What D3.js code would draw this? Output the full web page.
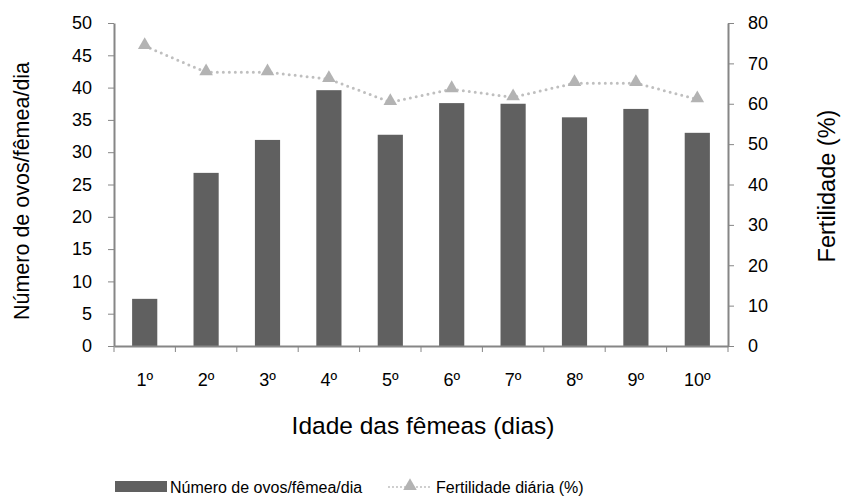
<!DOCTYPE html>
<html>
<head>
<meta charset="utf-8">
<script src="https://cdn.jsdelivr.net/npm/d3@7"></script>
<style>
  body { margin: 0; background: #fff; }
  text { font-family: "Liberation Sans", Arial, sans-serif; fill: #000; }
  .axis path, .axis line { stroke: #868686; }
</style>
</head>
<body>
<div id="chart"></div>
<script>
var days = ["1º","2º","3º","4º","5º","6º","7º","8º","9º","10º"];
var eggs = [7.3, 26.8, 31.9, 39.6, 32.7, 37.6, 37.5, 35.4, 36.7, 33.0];
var fertility = [74.3, 67.8, 67.8, 66.1, 60.4, 63.6, 61.6, 65.1, 65.1, 61.1];
var leftTicks = [0, 5, 10, 15, 20, 25, 30, 35, 40, 45, 50];
var rightTicks = [0, 10, 20, 30, 40, 50, 60, 70, 80];

var fullwidth = 842, fullheight = 497;
var margin = { top: 23, right: 114, bottom: 151, left: 114 };
var width = fullwidth - margin.left - margin.right;
var height = fullheight - margin.top - margin.bottom;

var svg = d3.select("#chart").append("svg")
  .attr("width", fullwidth)
  .attr("height", fullheight);

var g = svg.append("g")
  .attr("transform", "translate(" + margin.left + "," + margin.top + ")");

var xScale = d3.scaleBand().domain(days).range([0, width]).paddingInner(0.59).paddingOuter(0.295);
var xTicks = d3.scaleBand().domain(days).range([0, width]);
var yLeft = d3.scaleLinear().domain([0, 50]).range([height, 0]);
var yRight = d3.scaleLinear().domain([0, 80]).range([height, 0]);

// bars
g.selectAll("rect.bar")
  .data(eggs)
  .enter()
  .append("rect")
  .attr("class", "bar")
  .attr("x", function(d, i) { return xScale(days[i]); })
  .attr("y", function(d) { return yLeft(d); })
  .attr("width", xScale.bandwidth())
  .attr("height", function(d) { return height - yLeft(d); })
  .attr("fill", "#606060");

// axes
g.append("g").attr("class", "axis")
  .call(d3.axisLeft(yLeft).tickValues(leftTicks).tickSize(6).tickSizeOuter(0).tickPadding(16));
g.append("g").attr("class", "axis")
  .attr("transform", "translate(" + width + ",0)")
  .call(d3.axisRight(yRight).tickValues(rightTicks).tickSize(6).tickSizeOuter(0).tickPadding(14));
var xAxis = g.append("g").attr("class", "axis")
  .attr("transform", "translate(0," + height + ")")
  .call(d3.axisBottom(xTicks).tickSize(0).tickPadding(27));

xAxis.selectAll(".tick line").remove();
xAxis.selectAll("line.sep")
  .data(d3.range(days.length + 1))
  .enter()
  .append("line")
  .attr("x1", function(i) { return i * xTicks.step(); })
  .attr("x2", function(i) { return i * xTicks.step(); })
  .attr("y1", 0).attr("y2", 6)
  .attr("stroke", "#868686");

g.selectAll(".axis path").attr("stroke-width", 2);
g.selectAll(".axis text").style("font-size", "18px").attr("fill", "#000");

// line
var line = d3.line()
  .x(function(d, i) { return xScale(days[i]) + xScale.bandwidth() / 2; })
  .y(function(d) { return yRight(d); });

g.append("path")
  .datum(fertility)
  .attr("d", line)
  .attr("fill", "none")
  .attr("stroke", "#BFBFBF")
  .attr("stroke-width", 3)
  .attr("stroke-linecap", "round")
  .attr("stroke-dasharray", "0,6");

var tri = d3.symbol().type(d3.symbolTriangle).size(80);
g.selectAll("path.pt")
  .data(fertility)
  .enter()
  .append("path")
  .attr("class", "pt")
  .attr("d", tri)
  .attr("transform", function(d, i) {
    return "translate(" + (xScale(days[i]) + xScale.bandwidth() / 2) + "," + (yRight(d) - 1) + ")";
  })
  .attr("fill", "#B3B3B3");

// titles
svg.append("text")
  .attr("transform", "translate(21,191) rotate(-90)")
  .attr("text-anchor", "middle")
  .attr("dy", "0.35em")
  .style("font-size", "21.5px")
  .text("Número de ovos/fêmea/dia");

svg.append("text")
  .attr("transform", "translate(827,186) rotate(-90)")
  .attr("text-anchor", "middle")
  .attr("dy", "0.35em")
  .style("font-size", "23.5px")
  .text("Fertilidade (%)");

svg.append("text")
  .attr("x", margin.left + width / 2 + 2)
  .attr("y", 434)
  .attr("text-anchor", "middle")
  .style("font-size", "24.5px")
  .text("Idade das fêmeas (dias)");

// legend
var legend = svg.append("g");
legend.append("rect")
  .attr("x", 115).attr("y", 481).attr("width", 52).attr("height", 11)
  .attr("fill", "#606060");
legend.append("text")
  .attr("x", 170).attr("y", 493)
  .style("font-size", "16px")
  .text("Número de ovos/fêmea/dia");
legend.append("line")
  .attr("x1", 389).attr("x2", 431).attr("y1", 487).attr("y2", 487)
  .attr("stroke", "#BFBFBF").attr("stroke-width", 2)
  .attr("stroke-linecap", "round")
  .attr("stroke-dasharray", "0,4");
legend.append("path")
  .attr("d", tri)
  .attr("transform", "translate(410,486)")
  .attr("fill", "#B3B3B3");
legend.append("text")
  .attr("x", 436).attr("y", 493)
  .style("font-size", "16px")
  .text("Fertilidade diária (%)");
</script>
</body>
</html>
